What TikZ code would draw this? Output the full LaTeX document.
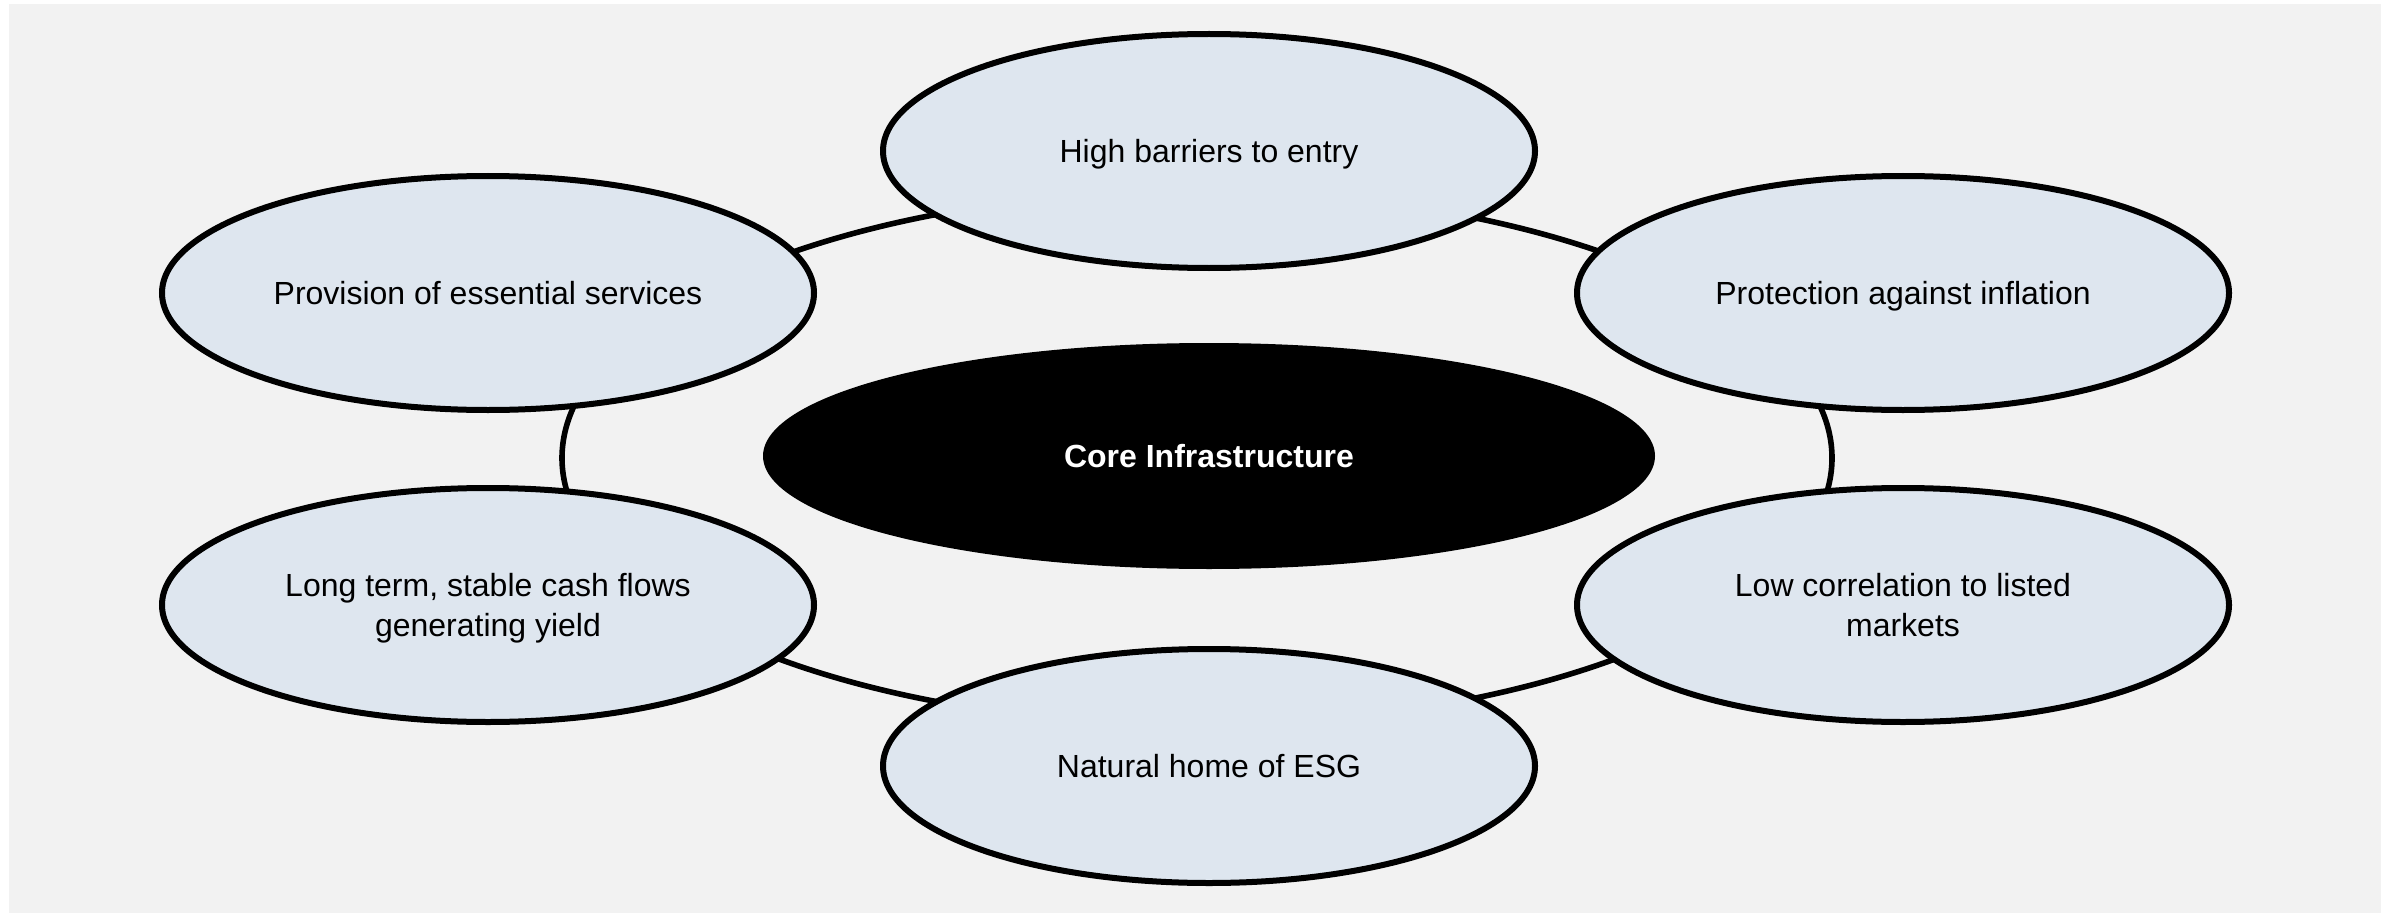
\documentclass[tikz,border=0pt]{standalone}
\usepackage{fontspec}
\setmainfont{Liberation Sans}
\usetikzlibrary{shapes.geometric}
\definecolor{bgGray}{RGB}{242,242,242}
\definecolor{ovalFill}{RGB}{222,230,239}
\tikzset{
  oval/.style={ellipse, draw=black, line width=3pt, fill=ovalFill, inner sep=0pt,
    minimum width=326pt, minimum height=117pt, align=center, text depth=0pt,
    font=\fontsize{16pt}{19.6pt}\selectfont},
  coreoval/.style={ellipse, fill=black, inner sep=0pt,
    minimum width=446pt, minimum height=113pt, align=center, text=white,
    font=\fontsize{16pt}{19.6pt}\selectfont\bfseries},
  ring/.style={draw=black, line width=2.8pt}
}
\begin{document}
\begin{tikzpicture}[x=0.5pt,y=-0.5pt]
\useasboundingbox (0,0) rectangle (2394,915);
\fill[white] (0,0) rectangle (2394,915);
\fill[bgGray] (9,4) rectangle (2381,913);
\coordinate (ringc) at (1197,458);
\draw[ring] (ringc) ellipse [x radius=317.5pt, y radius=133.5pt];
\node[coreoval] (core) at (1209,456) {Core Infrastructure};
\node[oval] (top) at (1209,151) {High barriers to entry};
\node[oval] (tl) at (488,293) {Provision of essential services};
\node[oval] (tr) at (1903,293) {Protection against inflation};
\node[oval] (bl) at (488,605) {Long term, stable cash flows\\generating yield};
\node[oval] (br) at (1903,605) {Low correlation to listed\\markets};
\node[oval] (bot) at (1209,766) {Natural home of ESG};
\end{tikzpicture}
\end{document}
